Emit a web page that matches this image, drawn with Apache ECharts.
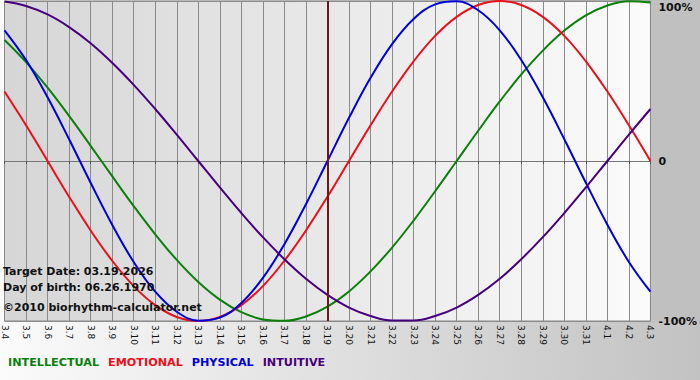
<!DOCTYPE html>
<html>
<head>
<meta charset="utf-8">
<script src="https://cdn.jsdelivr.net/npm/echarts@6/dist/echarts.min.js"></script>
<style>
  html, body { margin: 0; padding: 0; }
  #main { width: 700px; height: 380px; }
</style>
</head>
<body>
<div id="main"></div>
<script>
// days shown on the x axis
var days = ['3.4','3.5','3.6','3.7','3.8','3.9','3.10','3.11','3.12','3.13','3.14','3.15','3.16','3.17','3.18','3.19',
            '3.20','3.21','3.22','3.23','3.24','3.25','3.26','3.27','3.28','3.29','3.30','3.31','4.1','4.2','4.3'];
var targetDay = '3.19';

// cycle values in percent, one per day
var intellectual = [75.6,61.8,45.8,28.2,9.5,-9.5,-28.2,-45.8,-61.8,-75.6,-86.6,-94.5,-99.0,-99.9,-97.2,-91.0,
                    -81.5,-69.0,-54.1,-37.2,-18.9,0,18.9,37.2,54.1,69.0,81.5,91.0,97.2,99.9,99.0];
var emotional    = [43.4,22.3,0,-22.3,-43.4,-62.3,-78.2,-90.1,-97.5,-100,-97.5,-90.1,-78.2,-62.3,-43.4,-22.3,
                    0,22.3,43.4,62.3,78.2,90.1,97.5,100,97.5,90.1,78.2,62.3,43.4,22.3,0];
var physical     = [81.7,63.1,39.8,13.6,-13.6,-39.8,-63.1,-81.7,-94.2,-99.8,-97.9,-88.8,-73.1,-52.0,-27.0,0,
                    27.0,52.0,73.1,88.8,97.9,99.8,94.2,81.7,63.1,39.8,13.6,-13.6,-39.8,-63.1,-81.7];
var intuitive    = [99.7,96.9,91.6,83.7,73.6,61.4,47.6,32.5,16.5,0,-16.5,-32.5,-47.6,-61.4,-73.6,-83.7,
                    -91.6,-96.9,-99.7,-99.7,-96.9,-91.6,-83.7,-73.6,-61.4,-47.6,-32.5,-16.5,0,16.5,32.5];

var names  = ['INTELLECTUAL','EMOTIONAL','PHYSICAL','INTUITIVE'];
var colors = ['#0b7f0b','#e8101a','#0000d8','#46007e'];

var font = 'DejaVu Sans';
var myChart = echarts.init(document.getElementById('main'), null, {renderer: 'svg'});

function line(i, data) {
    return {
        name: names[i],
        type: 'line',
        data: data,
        smooth: 0.4,
        symbol: 'none',
        lineStyle: {color: colors[i], width: 2},
        itemStyle: {color: colors[i]}
    };
}

var series = [line(0, intellectual), line(1, emotional), line(2, physical), line(3, intuitive)];
// target date marker
series[0].markLine = {
    silent: true,
    symbol: 'none',
    label: {show: false},
    lineStyle: {color: '#741414', width: 2, type: 'solid'},
    data: [{xAxis: targetDay}]
};

var option = {
    animation: false,
    backgroundColor: {
        type: 'linear', x: 0, y: 0, x2: 1, y2: 0,
        colorStops: [{offset: 0, color: '#fbfbfb'}, {offset: 1, color: '#c2c2c2'}]
    },
    graphic: [
        {type: 'rect', shape: {x: 651, y: 0, width: 49, height: 322}, style: {fill: '#c0c0c0'}, z: -10},
        {type: 'text', left: 3, top: 266, style: {text: 'Target Date: 03.19.2026', font: 'bold 11px ' + font, fill: '#111'}, z: 100},
        {type: 'text', left: 3, top: 282, style: {text: 'Day of birth: 06.26.1970', font: 'bold 11px ' + font, fill: '#111'}, z: 100},
        {type: 'text', left: 3, top: 302, style: {text: '\u00a92010 biorhythm-calculator.net', font: 'bold 11px ' + font, fill: '#111'}, z: 100}
    ],
    legend: {
        left: 3,
        top: 355,
        padding: 0,
        icon: 'none',
        itemWidth: 0,
        itemGap: 4,
        selectedMode: false,
        data: names.map(function (n, i) {
            return {name: n, textStyle: {color: colors[i]}};
        }),
        textStyle: {fontFamily: font, fontWeight: 'bold', fontSize: 11.2, padding: 0}
    },
    grid: {
        left: 0, right: 49, top: 1, bottom: 59,
        show: true,
        borderColor: '#888',
        borderWidth: 1,
        backgroundColor: {
            type: 'linear', x: 0, y: 0, x2: 1, y2: 0,
            colorStops: [{offset: 0, color: '#d6d6d6'}, {offset: 1, color: '#fbfbfb'}]
        }
    },
    xAxis: {
        type: 'category',
        data: days,
        boundaryGap: false,
        axisLine: {lineStyle: {color: '#777', width: 1}},
        axisTick: {show: true, length: 3, interval: 0, lineStyle: {color: '#555'}},
        axisLabel: {
            interval: 0,
            rotate: -90,
            margin: 4,
            fontFamily: font,
            fontSize: 9,
            color: '#111'
        },
        splitLine: {show: true, interval: 0, lineStyle: {color: '#8a8a8a', width: 1}}
    },
    yAxis: {
        type: 'value',
        position: 'right',
        min: -100,
        max: 100,
        interval: 100,
        axisLine: {show: false},
        axisTick: {show: false},
        splitLine: {show: true, lineStyle: {color: '#8a8a8a', width: 1}},
        axisLabel: {
            margin: 8,
            fontFamily: font,
            fontWeight: 'bold',
            fontSize: 11,
            color: '#111',
            formatter: function (v) {
                if (v === 100) return '{t|100%}';
                if (v === -100) return '-100%';
                return '0';
            },
            rich: {
                t: {fontFamily: font, fontWeight: 'bold', fontSize: 11, color: '#111', padding: [12, 0, 0, 0]}
            }
        }
    },
    series: series
};

myChart.setOption(option);
</script>
</body>
</html>
